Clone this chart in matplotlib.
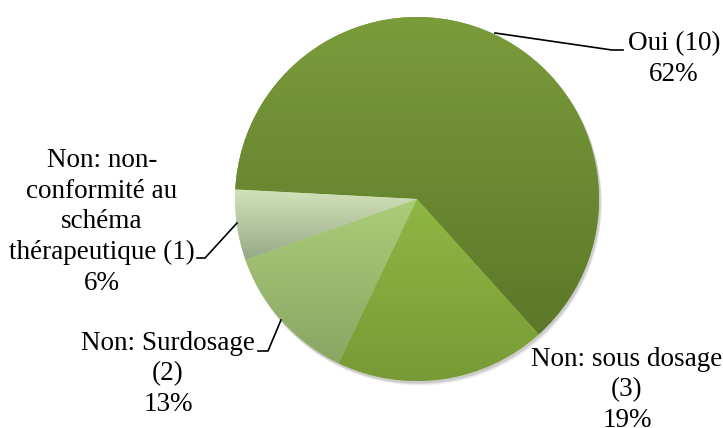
import matplotlib
matplotlib.use("Agg")
import matplotlib.pyplot as plt
import numpy as np
from matplotlib.patches import Circle

plt.rcParams.update({
    "font.family": ["Liberation Serif", "DejaVu Serif"],
    "text.color": "black",
})

# données
LABELS = ["Oui (10)", "Non: sous dosage\n(3)", "Non: Surdosage\n(2)",
          "Non: non-\nconformité au\nschéma\nthérapeutique (1)"]
COUNTS = [10, 3, 2, 1]
PCTS = ["62%", "19%", "13%", "6%"]

# dégradé vertical (haut -> bas) pour chaque part
GRAD = [("#7b9c3b", "#5c7829"),
        ("#8fb744", "#789a36"),
        ("#abcd78", "#8aa664"),
        ("#d2e3bb", "#97a886")]

H = 428
CX, CY, R = 417, H - 199, 182

fig = plt.figure(figsize=(7.23, 4.28), dpi=100)
ax = fig.add_axes([0, 0, 1, 1])

# ombre légère
for off, a in [(4, 0.05), (3, 0.07), (2, 0.09)]:
    ax.add_patch(Circle((CX + off * 0.6, CY - off), R + 0.5, color="black",
                        alpha=a, lw=0, zorder=0))

wedges, _ = ax.pie(COUNTS, startangle=177, counterclock=False,
                   center=(CX, CY), radius=R,
                   colors=[g[0] for g in GRAD],
                   wedgeprops=dict(linewidth=0))


def hex2rgb(h):
    return np.array([int(h[i:i + 2], 16) / 255 for i in (1, 3, 5)])


for w, (top, bot) in zip(wedges, GRAD):
    bb = w.get_path().get_extents()
    t = np.linspace(0, 1, 256)[:, None]
    img = (1 - t) * hex2rgb(top) + t * hex2rgb(bot)
    im = ax.imshow(img[:, None, :], extent=[bb.x0, bb.x1, bb.y0, bb.y1],
                   origin="upper", aspect="auto", zorder=2,
                   interpolation="bilinear")
    im.set_clip_path(w)

ax.set_xlim(0, 723)
ax.set_ylim(0, H)
ax.set_aspect("equal")
ax.axis("off")

FS = 19.5
# positions des étiquettes (centre du bloc, y depuis le haut)
pos = [(674, 59), (627, 390), (168, 374), (102, 222)]
for lab, pct, (x, y) in zip(LABELS, PCTS, pos):
    ax.text(x, H - y, lab + "\n" + pct, ha="center", va="center",
            multialignment="center", fontsize=FS, linespacing=1.3, zorder=5)

# traits de rappel
leaders = [
    [(495, 33), (612, 50), (623, 50)],
    [(281, 320), (268, 351), (258, 351)],
    [(237, 223), (205, 258), (197, 258)],
]
for pts in leaders:
    xs = [p[0] for p in pts]
    ys = [H - p[1] for p in pts]
    ax.plot(xs, ys, color="black", lw=1.2, zorder=4)

fig.savefig("out.png", dpi=100)
